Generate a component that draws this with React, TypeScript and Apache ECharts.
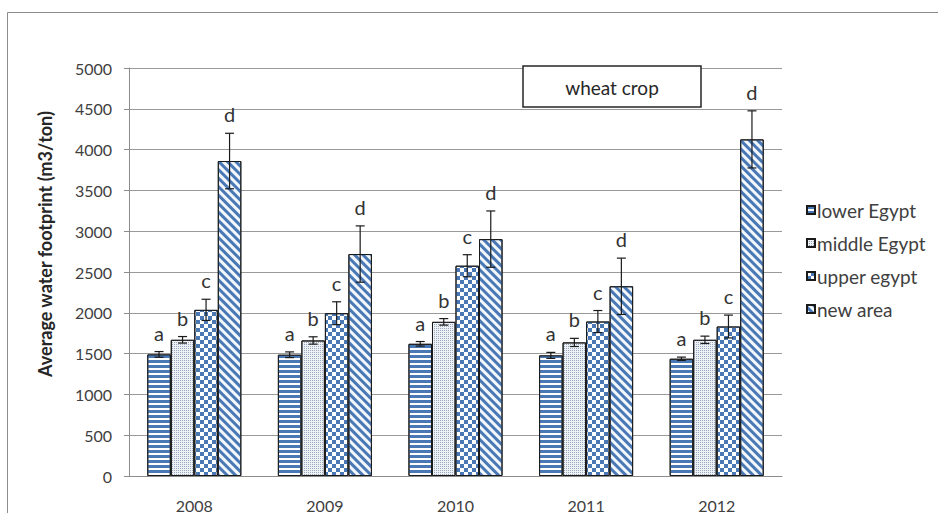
import React, { useEffect, useRef } from "react";
import * as echarts from "echarts";

const categories = ["2008", "2009", "2010", "2011", "2012"];
const seriesNames = ["lower Egypt", "middle Egypt", "upper egypt", "new area"];
const lowerEgypt = [1490, 1486, 1620, 1478, 1437];
const lowerErr = [35, 35, 28, 37, 20];
const middleEgypt = [1669, 1661, 1889, 1637, 1669];
const middleErr = [40, 45, 40, 50, 45];
const upperEgypt = [2036, 1995, 2577, 1893, 1832];
const upperErr = [130, 140, 135, 135, 140];
const newArea = [3860, 2720, 2903, 2325, 4125];
const newErr = [340, 345, 345, 345, 350];
const letters = ["a", "b", "c", "d"];
const yTicks = { min: 0, max: 5000, interval: 500 };
const chartTitle = "wheat crop";
const yTitle = "Average water footprint (m3/ton)";

const BLUE = "#4a78b5";
const FONT = "Lato";
const GAP = 0.28;

export default function App() {
  const ref = useRef<HTMLDivElement>(null);
  useEffect(() => {
    if (!ref.current) return;
    const chart = echarts.init(ref.current, undefined, { renderer: "svg" });
    const values = [lowerEgypt, middleEgypt, upperEgypt, newArea];
    const errs = [lowerErr, middleErr, upperErr, newErr];
    const decals: any[] = [
      { symbol: "rect", symbolSize: 1, color: BLUE, dashArrayX: [20, 0], dashArrayY: [3, 2] },
      { symbol: "rect", symbolSize: 1, color: "#9aa8bd", dashArrayX: [1, 1], dashArrayY: [1, 1] },
      { symbol: "rect", symbolSize: 1, color: BLUE, dashArrayX: [[4, 4], [0, 4, 4, 0]], dashArrayY: [4, 0] },
      { symbol: "rect", symbolSize: 1, color: BLUE, dashArrayX: [20, 0], dashArrayY: [3, 3], rotation: Math.PI / 4 },
    ];
    const barColors = ["#ffffff", "#eef1f5", "#ffffff", "#f2f7fc"];
    const barSeries = seriesNames.map((name, i) => ({
      name,
      type: "bar",
      data: values[i],
      barGap: "0%",
      barCategoryGap: GAP * 100 + "%",
      itemStyle: { color: barColors[i], borderColor: "#1a1a1a", borderWidth: 1, decal: decals[i] },
      emphasis: { disabled: true },
    }));
    const errData: any[] = [];
    values.forEach((arr, s) => {
      arr.forEach((v, c) => {
        errData.push([c, s, v, errs[s][c]]);
      });
    });
    const errSeries = {
      type: "custom",
      data: errData,
      encode: { x: 0, y: 2 },
      z: 10,
      renderItem: (params: any, api: any) => {
        const c = api.value(0);
        const s = api.value(1);
        const v = api.value(2);
        const e = api.value(3);
        const cw = api.size([1, 0])[0];
        const total = cw * (1 - GAP);
        const bw = total / 4;
        const cx = api.coord([c, 0])[0];
        const x = cx - total / 2 + bw * (s + 0.5);
        const yTop = api.coord([c, v + e])[1];
        const yBot = api.coord([c, v - e])[1];
        const cap = 4.5;
        const st = { stroke: "#1a1a1a", lineWidth: 1.2 };
        return {
          type: "group",
          children: [
            { type: "line", shape: { x1: x, y1: yTop, x2: x, y2: yBot }, style: st },
            { type: "line", shape: { x1: x - cap, y1: yTop, x2: x + cap, y2: yTop }, style: st },
            { type: "line", shape: { x1: x - cap, y1: yBot, x2: x + cap, y2: yBot }, style: st },
            {
              type: "text",
              x: x,
              y: yTop - 19,
              style: {
                text: letters[s],
                fill: "#333333",
                font: `20px ${FONT}`,
                align: "center",
                verticalAlign: "middle",
              },
            },
          ],
        };
      },
    };
    chart.setOption({
      animation: false,
      textStyle: { fontFamily: FONT },
      grid: { left: 129, right: 156, top: 68, bottom: 35, containLabel: false },
      legend: {
        orient: "vertical",
        left: 806,
        top: 200,
        padding: 0,
        itemWidth: 8,
        itemHeight: 8,
        itemGap: 13,
        icon: "rect",
        data: seriesNames,
        textStyle: { fontFamily: FONT, fontSize: 19, color: "#404040", lineHeight: 20, padding: [0, 0, 0, -3] },
      },
      xAxis: {
        type: "category",
        data: categories,
        axisLine: { lineStyle: { color: "#8c8c8c", width: 1 } },
        axisTick: { show: false },
        axisLabel: { fontFamily: FONT, fontSize: 16, color: "#404040", margin: 21 },
      },
      yAxis: {
        type: "value",
        min: yTicks.min,
        max: yTicks.max,
        interval: yTicks.interval,
        axisLine: { show: true, lineStyle: { color: "#8c8c8c", width: 1 } },
        axisTick: { show: true, length: 5, lineStyle: { color: "#8c8c8c" } },
        axisLabel: {
          fontFamily: FONT,
          fontSize: 16,
          color: "#404040",
          margin: 17,
          formatter: (v: number) => String(v),
        },
        splitLine: { lineStyle: { color: "#9a9a9a", width: 1 } },
      },
      graphic: [
        {
          type: "rect",
          silent: true,
          shape: { x: 7.5, y: 12.5, width: 940, height: 520 },
          style: { fill: "none", stroke: "#8c8c8c", lineWidth: 1 },
          z: -1,
        },
        {
          type: "rect",
          shape: { x: 523, y: 66, width: 178, height: 41 },
          style: { fill: "#ffffff", stroke: "#262626", lineWidth: 1.5 },
          z: 100,
        },
        {
          type: "text",
          x: 612,
          y: 87,
          z: 101,
          style: {
            text: chartTitle,
            font: `19px ${FONT}`,
            fill: "#262626",
            align: "center",
            verticalAlign: "middle",
          },
        },
        {
          type: "text",
          x: 45,
          y: 244,
          rotation: Math.PI / 2,
          style: {
            text: yTitle,
            font: `bold 18px ${FONT}`,
            fill: "#262626",
            align: "center",
            verticalAlign: "middle",
          },
        },
      ],
      series: [...barSeries, errSeries],
    });
    return () => chart.dispose();
  }, []);
  return (
    <div
      ref={ref}
      style={{ position: "fixed", left: 0, top: 0, width: 938, height: 513, background: "#ffffff" }}
    />
  );
}
